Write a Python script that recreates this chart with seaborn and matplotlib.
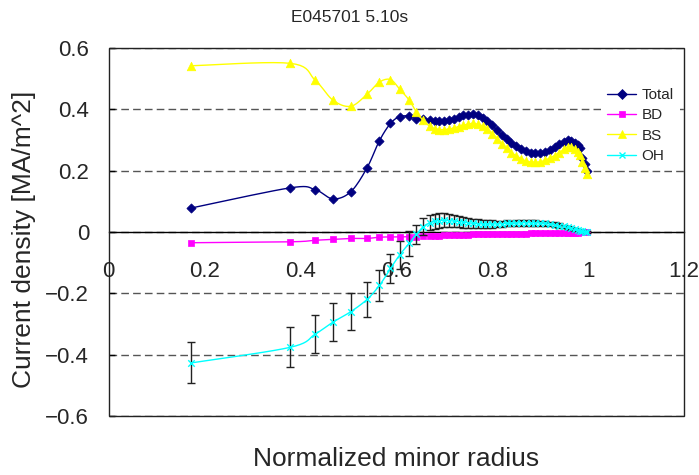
import numpy as np
import matplotlib
matplotlib.use("Agg")
import matplotlib.pyplot as plt
from matplotlib.lines import Line2D
from matplotlib.patches import Rectangle
import seaborn as sns

# Normalized minor radius of each profile point
rho = [0.172, 0.379, 0.431, 0.468, 0.505, 0.539, 0.565, 0.588, 0.607, 0.627,
       0.642, 0.656, 0.670, 0.680, 0.690, 0.700, 0.710, 0.720, 0.730, 0.740,
       0.750, 0.760, 0.770, 0.780, 0.790, 0.800, 0.810, 0.820, 0.830, 0.840,
       0.850, 0.860, 0.870, 0.880, 0.890, 0.900, 0.910, 0.920, 0.930, 0.940,
       0.950, 0.958, 0.965, 0.972, 0.978, 0.983, 0.988, 0.993, 0.997]

# Current density components [MA/m^2]
j_total = [0.078, 0.144, 0.138, 0.108, 0.131, 0.209, 0.298, 0.354, 0.376, 0.378,
           0.370, 0.367, 0.365, 0.362, 0.361, 0.363, 0.366, 0.370, 0.376, 0.380,
           0.383, 0.384, 0.380, 0.373, 0.362, 0.348, 0.332, 0.316, 0.302, 0.289,
           0.279, 0.270, 0.264, 0.259, 0.258, 0.259, 0.262, 0.268, 0.276, 0.286,
           0.294, 0.299, 0.297, 0.291, 0.284, 0.275, 0.240, 0.222, 0.198]
j_bd = [-0.035, -0.032, -0.027, -0.024, -0.021, -0.021, -0.017, -0.016, -0.016, -0.015,
        -0.015, -0.014, -0.013, -0.012, -0.012, -0.011, -0.011, -0.010, -0.010, -0.009,
        -0.009, -0.008, -0.008, -0.008, -0.007, -0.007, -0.007, -0.006, -0.006, -0.006,
        -0.005, -0.005, -0.005, -0.004, -0.004, -0.004, -0.004, -0.003, -0.003, -0.003,
        -0.003, -0.002, -0.002, -0.002, -0.002, -0.001, -0.001, -0.001, 0.000]
j_bs = [0.542, 0.550, 0.495, 0.430, 0.410, 0.449, 0.489, 0.497, 0.466, 0.430,
        0.391, 0.364, 0.345, 0.337, 0.334, 0.334, 0.336, 0.339, 0.344, 0.348,
        0.352, 0.354, 0.351, 0.346, 0.335, 0.321, 0.304, 0.287, 0.273, 0.259,
        0.249, 0.239, 0.232, 0.228, 0.227, 0.229, 0.234, 0.241, 0.249, 0.259,
        0.270, 0.277, 0.276, 0.270, 0.262, 0.250, 0.227, 0.208, 0.188]
j_oh = [-0.427, -0.376, -0.333, -0.294, -0.260, -0.220, -0.174, -0.119, -0.075, -0.037,
        -0.008, 0.017, 0.030, 0.035, 0.037, 0.038, 0.037, 0.036, 0.034, 0.032,
        0.030, 0.028, 0.027, 0.026, 0.026, 0.026, 0.026, 0.027, 0.028, 0.028,
        0.029, 0.030, 0.030, 0.030, 0.030, 0.029, 0.028, 0.026, 0.024, 0.021,
        0.018, 0.015, 0.012, 0.009, 0.006, 0.004, 0.003, 0.001, 0.000]
j_oh_err = [0.067, 0.065, 0.061, 0.062, 0.060, 0.056, 0.051, 0.046, 0.045, 0.040,
            0.031, 0.028, 0.025, 0.025, 0.024, 0.023, 0.022, 0.021, 0.019, 0.018,
            0.017, 0.016, 0.015, 0.014, 0.013, 0.012, 0.011, 0.010, 0.010, 0.009,
            0.009, 0.009, 0.009, 0.009, 0.009, 0.008, 0.008, 0.008, 0.007, 0.007,
            0.006, 0.006, 0.005, 0.005, 0.004, 0.004, 0.003, 0.003, 0.002]

series_names = ["Total", "BD", "BS", "OH"]
x_ticks = [0, 0.2, 0.4, 0.6, 0.8, 1.0, 1.2]
x_tick_labels = ["0", "0.2", "0.4", "0.6", "0.8", "1", "1.2"]
y_ticks = [-0.6, -0.4, -0.2, 0, 0.2, 0.4, 0.6]
y_tick_labels = ["\u22120.6", "\u22120.4", "\u22120.2", "0", "0.2", "0.4", "0.6"]
title = "E045701 5.10s"


def smooth_path(xv, yv, steps=10):
    """Piecewise cubic Bezier through the points (spreadsheet-style smoothed line)."""
    pts = np.column_stack([xv, yv]).astype(float)
    out = [pts[0]]
    t = np.linspace(0, 1, steps + 1)[1:, None]
    for i in range(len(pts) - 1):
        p0 = pts[i - 1] if i > 0 else pts[i]
        p1, p2 = pts[i], pts[i + 1]
        p3 = pts[i + 2] if i + 2 < len(pts) else pts[i + 1]
        c1 = p1 + (p2 - p0) / 6.0
        c2 = p2 - (p3 - p1) / 6.0
        seg = ((1 - t) ** 3) * p1 + 3 * ((1 - t) ** 2) * t * c1 \
            + 3 * (1 - t) * (t ** 2) * c2 + (t ** 3) * p2
        out.extend(seg)
    out = np.array(out)
    return out[:, 0], out[:, 1]


sns.set_style("white")
plt.rcParams["font.family"] = ["Liberation Sans", "DejaVu Sans"]

W, H = 699, 475
fig = plt.figure(figsize=(W / 100, H / 100), dpi=100)
fig.patch.set_facecolor("white")
ax_l, ax_r, ax_t, ax_b = 108.5, 684, 48, 416
ax = fig.add_axes([ax_l / W, 1 - ax_b / H, (ax_r - ax_l) / W, (ax_b - ax_t) / H])
ax.set_xlim(0, 1.2)
ax.set_ylim(-0.6, 0.6)

styles = {
    "Total": dict(color="#000080", marker="D", s=22, lw=0.5),
    "BD": dict(color="#FF00FF", marker="s", s=18, lw=0.5),
    "BS": dict(color="#FFFF00", marker="^", s=38, lw=0.5),
    "OH": dict(color="#00FFFF", marker="x", s=22, lw=1.0),
}
values = {"Total": j_total, "BD": j_bd, "BS": j_bs, "OH": j_oh}

# dashed horizontal gridlines
ax.yaxis.grid(True, color="#555555", lw=1.0, linestyle=(0, (5.5, 3.0)), zorder=0)
ax.set_axisbelow(True)

for k, name in enumerate(series_names):
    st = styles[name]
    sx, sy = smooth_path(rho, values[name])
    z = 3 + 2 * k
    sns.lineplot(x=sx, y=sy, sort=False, estimator=None, color=st["color"],
                 lw=1.0, ax=ax, zorder=z)
    if name == "OH":
        ax.errorbar(rho, j_oh, yerr=j_oh_err, fmt="none", ecolor="#222222",
                    elinewidth=1.0, capsize=3, capthick=1.0, zorder=z)
    if st["marker"] == "x":
        sns.scatterplot(x=rho, y=values[name], marker="x", s=st["s"],
                        color=st["color"], linewidth=st["lw"], ax=ax, zorder=z + 1)
    else:
        sns.scatterplot(x=rho, y=values[name], marker=st["marker"], s=st["s"],
                        color=st["color"], edgecolor=st["color"],
                        linewidth=st["lw"], ax=ax, zorder=z + 1)

# x axis crosses at y = 0, frame drawn around the plot area
for side in ["top", "right", "left"]:
    ax.spines[side].set_visible(False)
ax.spines["bottom"].set_position(("data", 0))
ax.spines["bottom"].set_color("black")
ax.spines["bottom"].set_linewidth(1.0)
ax.spines["bottom"].set_zorder(2.5)
ax.add_patch(Rectangle((0, 0), 1, 1, transform=ax.transAxes, fill=False,
                       ec="#222222", lw=1.0, zorder=20, clip_on=False))

ax.set_xticks(x_ticks)
ax.set_xticklabels(x_tick_labels)
ax.set_yticks(y_ticks)
ax.set_yticklabels(y_tick_labels)
ax.tick_params(axis="x", direction="in", length=8, width=1, color="black",
               pad=21, labelsize=16)
ax.tick_params(axis="y", direction="in", length=4, width=1, color="black",
               pad=14, labelsize=16, left=True)

ax.set_xlabel("Normalized minor radius", fontsize=19)
ax.xaxis.label.set_va("center")
ax.xaxis.set_label_coords(0.5, (ax_b - 459) / (ax_b - ax_t))
ax.set_ylabel("Current density [MA/m^2]", fontsize=19)
ax.yaxis.label.set_va("center")
ax.yaxis.set_label_coords((24 - ax_l) / (ax_r - ax_l), 0.48)

fig.text(0.5, 1 - 17 / H, title, ha="center", va="center", fontsize=12.5)

handles = []
for name in series_names:
    st = styles[name]
    handles.append(Line2D([], [], color=st["color"], lw=1.0, marker=st["marker"],
                          markersize=np.sqrt(st["s"]) * (1.0 if st["marker"] != "^" else 0.95),
                          markeredgecolor=st["color"], markerfacecolor=st["color"],
                          markeredgewidth=st["lw"]))
leg = ax.legend(handles, series_names, loc="center left",
                bbox_to_anchor=(601 / W, 1 - 125.5 / H), bbox_transform=fig.transFigure,
                frameon=True, fontsize=11, handlelength=1.9, handletextpad=0.35,
                labelspacing=0.42, borderpad=0.4, borderaxespad=0)
leg.get_frame().set_facecolor("white")
leg.get_frame().set_edgecolor("none")
leg.get_frame().set_alpha(1.0)
leg.set_zorder(30)

fig.savefig("out.png", dpi=100, facecolor="white")
